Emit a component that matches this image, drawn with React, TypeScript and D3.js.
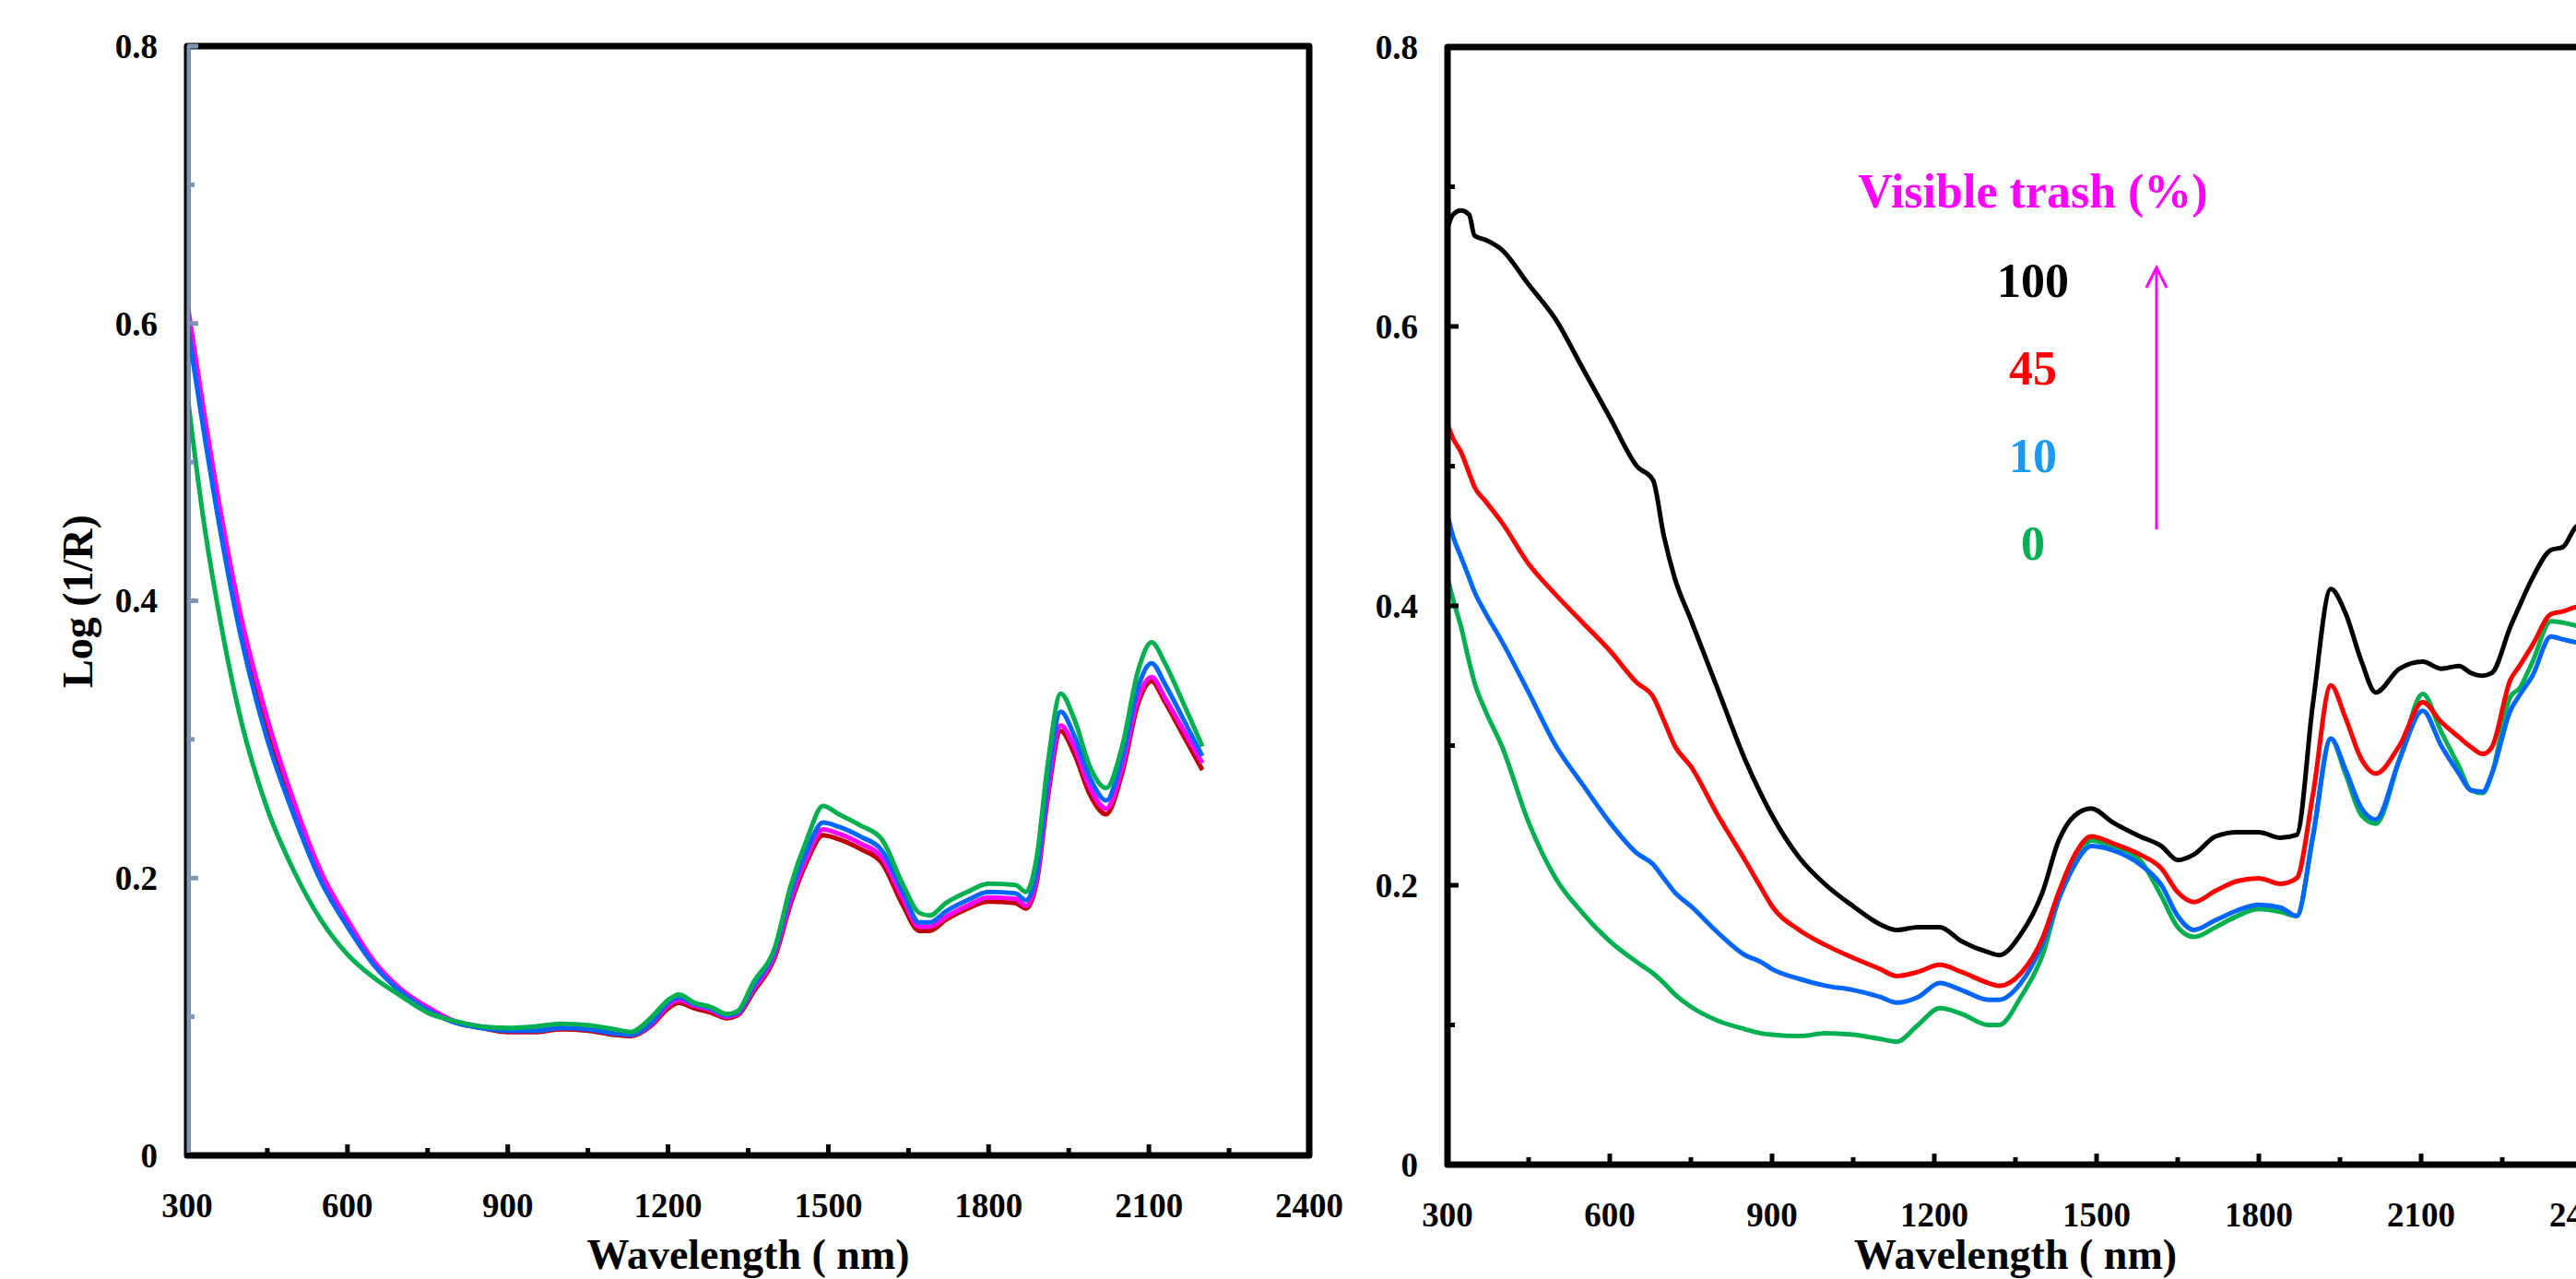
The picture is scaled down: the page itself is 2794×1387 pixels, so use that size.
import React from 'react';
import * as d3 from 'd3';

// axis ticks
const xTickLabels = [300, 600, 900, 1200, 1500, 1800, 2100, 2400];
const xMinorTicks = [450, 750, 1050, 1350, 1650, 1950, 2250];
const yTickLabels = [0, 0.2, 0.4, 0.6, 0.8];
const yMinorTicks = [0.1, 0.3, 0.5, 0.7];

// left panel: wavelength grid (nm) and log(1/R) values
const leftWl = [300, 330, 360, 400, 450, 500, 550, 600, 650, 700, 750, 800, 850, 900, 950, 1000, 1050, 1100, 1130, 1170,
  1200, 1220, 1250, 1280, 1310, 1330, 1360, 1400, 1430, 1460, 1490, 1520, 1560, 1600, 1640, 1670, 1690, 1720, 1760, 1800,
  1850, 1870, 1890, 1910, 1935, 1960, 1990, 2020, 2050, 2080, 2105, 2130, 2160, 2200];
const leftRed = [0.61, 0.535, 0.465, 0.385, 0.31, 0.25, 0.2, 0.167, 0.138, 0.118, 0.105, 0.096, 0.092, 0.089, 0.089, 0.091, 0.09, 0.087, 0.086, 0.094,
  0.106, 0.11, 0.106, 0.103, 0.099, 0.101, 0.118, 0.143, 0.182, 0.212, 0.231, 0.228, 0.221, 0.211, 0.18, 0.162, 0.162, 0.17, 0.178, 0.183,
  0.182, 0.178, 0.197, 0.256, 0.306, 0.29, 0.26, 0.246, 0.276, 0.326, 0.342, 0.327, 0.306, 0.278];
const leftMagenta = [0.615, 0.54, 0.47, 0.39, 0.315, 0.255, 0.205, 0.17, 0.14, 0.12, 0.107, 0.097, 0.093, 0.09, 0.09, 0.092, 0.091, 0.088, 0.087, 0.095,
  0.108, 0.112, 0.108, 0.105, 0.1, 0.102, 0.12, 0.145, 0.185, 0.215, 0.235, 0.232, 0.225, 0.215, 0.185, 0.165, 0.165, 0.172, 0.18, 0.186,
  0.185, 0.18, 0.2, 0.26, 0.31, 0.295, 0.265, 0.25, 0.28, 0.33, 0.345, 0.33, 0.31, 0.283];
const leftBlue = [0.6, 0.525, 0.455, 0.375, 0.3, 0.245, 0.198, 0.165, 0.137, 0.118, 0.105, 0.096, 0.092, 0.09, 0.09, 0.092, 0.091, 0.088, 0.087, 0.096,
  0.11, 0.114, 0.109, 0.106, 0.101, 0.103, 0.122, 0.148, 0.19, 0.22, 0.24, 0.237, 0.23, 0.22, 0.19, 0.168, 0.168, 0.176, 0.184, 0.19,
  0.189, 0.184, 0.205, 0.268, 0.32, 0.303, 0.272, 0.256, 0.287, 0.338, 0.355, 0.34, 0.318, 0.288];
const leftGreen = [0.55, 0.46, 0.39, 0.315, 0.25, 0.205, 0.17, 0.145, 0.128, 0.115, 0.103, 0.097, 0.093, 0.092, 0.093, 0.095, 0.094, 0.091, 0.089, 0.1,
  0.112, 0.116, 0.11, 0.107, 0.102, 0.104, 0.125, 0.15, 0.195, 0.228, 0.252, 0.246, 0.238, 0.228, 0.195, 0.175, 0.173, 0.182, 0.19, 0.196,
  0.195, 0.19, 0.215, 0.28, 0.333, 0.315, 0.28, 0.265, 0.295, 0.35, 0.37, 0.355, 0.33, 0.295];

// right panel: visible trash levels
const rightWl = [300, 310, 325, 340, 350, 370, 400, 450, 500, 550, 600, 650, 680, 700, 720, 750, 800, 850, 880, 900,
  950, 1000, 1050, 1100, 1130, 1170, 1210, 1250, 1300, 1320, 1360, 1400, 1430, 1460, 1490, 1530, 1580, 1620, 1650, 1680,
  1720, 1760, 1800, 1840, 1870, 1900, 1933, 1960, 1990, 2016, 2060, 2103, 2137, 2170, 2192, 2214, 2231, 2265, 2282, 2306,
  2340, 2362, 2385, 2400];
const trash100 = [0.67, 0.68, 0.683, 0.68, 0.665, 0.662, 0.655, 0.63, 0.605, 0.57, 0.535, 0.5, 0.49, 0.45, 0.42, 0.39, 0.34, 0.29, 0.265, 0.25,
  0.22, 0.2, 0.185, 0.172, 0.168, 0.17, 0.17, 0.16, 0.152, 0.15, 0.165, 0.195, 0.232, 0.25, 0.255, 0.245, 0.235, 0.228, 0.218, 0.222,
  0.235, 0.238, 0.238, 0.234, 0.236, 0.33, 0.412, 0.395, 0.36, 0.338, 0.355, 0.36, 0.355, 0.357, 0.352, 0.35, 0.352, 0.385, 0.4, 0.42,
  0.44, 0.442, 0.456, 0.46];
const trash45 = [0.53, 0.52, 0.51, 0.495, 0.485, 0.475, 0.46, 0.43, 0.408, 0.388, 0.368, 0.345, 0.335, 0.318, 0.3, 0.285, 0.25, 0.218, 0.198, 0.185,
  0.168, 0.157, 0.148, 0.14, 0.135, 0.138, 0.143, 0.138, 0.13, 0.128, 0.137, 0.162, 0.195, 0.222, 0.235, 0.23, 0.222, 0.212, 0.195, 0.188,
  0.196, 0.203, 0.205, 0.201, 0.205, 0.265, 0.343, 0.32, 0.29, 0.28, 0.3, 0.331, 0.317, 0.306, 0.299, 0.294, 0.299, 0.347, 0.357, 0.372,
  0.394, 0.396, 0.399, 0.4];
const trash10 = [0.465, 0.45, 0.435, 0.42, 0.41, 0.395, 0.375, 0.338, 0.3, 0.272, 0.245, 0.223, 0.215, 0.205, 0.195, 0.185, 0.166, 0.15, 0.145, 0.14,
  0.133, 0.128, 0.125, 0.12, 0.116, 0.12, 0.13, 0.125, 0.118, 0.118, 0.13, 0.158, 0.19, 0.215, 0.228, 0.225, 0.215, 0.2, 0.178, 0.168,
  0.175, 0.182, 0.186, 0.184, 0.178, 0.235, 0.305, 0.283, 0.255, 0.247, 0.29, 0.325, 0.3, 0.28, 0.268, 0.267, 0.28, 0.325, 0.336, 0.35,
  0.378, 0.376, 0.374, 0.373];
const trash0 = [0.42, 0.405, 0.385, 0.36, 0.345, 0.325, 0.3, 0.245, 0.205, 0.18, 0.16, 0.145, 0.137, 0.13, 0.122, 0.113, 0.103, 0.097, 0.094, 0.093,
  0.092, 0.094, 0.093, 0.09, 0.088, 0.1, 0.112, 0.108, 0.1, 0.1, 0.12, 0.15, 0.19, 0.215, 0.232, 0.228, 0.218, 0.192, 0.17, 0.163,
  0.17, 0.178, 0.183, 0.181, 0.178, 0.235, 0.305, 0.28, 0.25, 0.244, 0.29, 0.337, 0.31, 0.285, 0.268, 0.266, 0.28, 0.335, 0.341, 0.36,
  0.389, 0.388, 0.386, 0.385];

const legendLabels = ['100', '45', '10', '0'];
const legendColors = ['#000000', '#ff0000', '#1a9af0', '#00b050'];

const FONT = '"Liberation Serif", "Times New Roman", serif';

type Series = { wl: number[]; values: number[]; color: string };

function Panel({ left, right, top, bottom, series, axisTint, labelGap, xLabelY }:
  { left: number; right: number; top: number; bottom: number; series: Series[]; axisTint?: string; labelGap: number; xLabelY: number }) {
  const x = d3.scaleLinear().domain([300, 2400]).range([left, right]);
  const y = d3.scaleLinear().domain([0, 0.8]).range([bottom, top]);
  const line = d3.line<[number, number]>().x(d => x(d[0])).y(d => y(d[1])).curve(d3.curveMonotoneX);
  const tickColor = axisTint || '#000';

  return (
    <g>
      {series.map((s, i) => (
        <path key={i} d={line(s.wl.map((w, j) => [w, s.values[j]]) as [number, number][]) || ''}
          fill="none" stroke={s.color} strokeWidth={5} strokeLinejoin="round" />
      ))}
      <rect x={left} y={top} width={right - left} height={bottom - top} fill="none"
        stroke="#000" strokeWidth={7} strokeLinejoin="round" />
      {axisTint && <line x1={left + 1.5} x2={left + 1.5} y1={top} y2={bottom - 3} stroke={axisTint} strokeWidth={4} />}
      {xTickLabels.slice(1, -1).map(t => (
        <line key={'xt' + t} x1={x(t)} x2={x(t)} y1={bottom} y2={bottom - 12} stroke="#000" strokeWidth={5} />
      ))}
      {xMinorTicks.map(t => (
        <line key={'xm' + t} x1={x(t)} x2={x(t)} y1={bottom} y2={bottom - 8} stroke="#000" strokeWidth={5} />
      ))}
      {yTickLabels.slice(1).map(t => (
        <line key={'yt' + t} x1={left} x2={left + 12} y1={y(t)} y2={y(t)} stroke={tickColor} strokeWidth={5} />
      ))}
      {yMinorTicks.map(t => (
        <line key={'ym' + t} x1={left} x2={left + 8} y1={y(t)} y2={y(t)} stroke={tickColor} strokeWidth={5} />
      ))}
      {xTickLabels.map(t => (
        <text key={'xl' + t} x={x(t)} y={xLabelY} textAnchor="middle" fontFamily={FONT}
          fontWeight="bold" fontSize={37}>{t}</text>
      ))}
      {yTickLabels.map(t => (
        <text key={'yl' + t} x={left - labelGap} y={y(t)} dy="0.35em" textAnchor="end" fontFamily={FONT}
          fontWeight="bold" fontSize={37}>{t}</text>
      ))}
      <text x={(left + right) / 2} y={1376} textAnchor="middle" fontFamily={FONT} fontWeight="bold"
        fontSize={46}>Wavelength ( nm)</text>
    </g>
  );
}

export default function App() {
  const leftSeries: Series[] = [
    { wl: leftWl, values: leftRed, color: '#c00000' },
    { wl: leftWl, values: leftMagenta, color: '#ff00ff' },
    { wl: leftWl, values: leftBlue, color: '#0066ff' },
    { wl: leftWl, values: leftGreen, color: '#00b050' },
  ];
  const rightSeries: Series[] = [
    { wl: rightWl, values: trash0, color: '#00b050' },
    { wl: rightWl, values: trash10, color: '#0066ff' },
    { wl: rightWl, values: trash45, color: '#ff0000' },
    { wl: rightWl, values: trash100, color: '#000000' },
  ];
  const legendY = d3.scaleLinear().domain([0, 3]).range([322, 607]);

  return (
    <svg width={2794} height={1387} style={{ position: 'absolute', left: 0, top: 0, background: '#fff' }}>
      <Panel left={203} right={1420} top={50} bottom={1253} series={leftSeries} axisTint="#8096b4"
        labelGap={32} xLabelY={1320} />
      <Panel left={1570} right={2802} top={51} bottom={1263} series={rightSeries}
        labelGap={32} xLabelY={1330} />
      <text transform="translate(100,652) rotate(-90)" textAnchor="middle" fontFamily={FONT} fontWeight="bold"
        fontSize={46}>Log (1/R)</text>
      <text x={2205} y={225} textAnchor="middle" fontFamily={FONT} fontWeight="bold" fontSize={52}
        fill="#ff00ff">Visible trash (%)</text>
      {legendLabels.map((l, i) => (
        <text key={l} x={2205} y={legendY(i)} textAnchor="middle" fontFamily={FONT} fontWeight="bold"
          fontSize={52} fill={legendColors[i]}>{l}</text>
      ))}
      <line x1={2339} x2={2339} y1={574} y2={290} stroke="#ff00ff" strokeWidth={3} />
      <polyline points="2328,312 2339,290 2350,312" fill="none" stroke="#ff00ff" strokeWidth={3} />
    </svg>
  );
}
